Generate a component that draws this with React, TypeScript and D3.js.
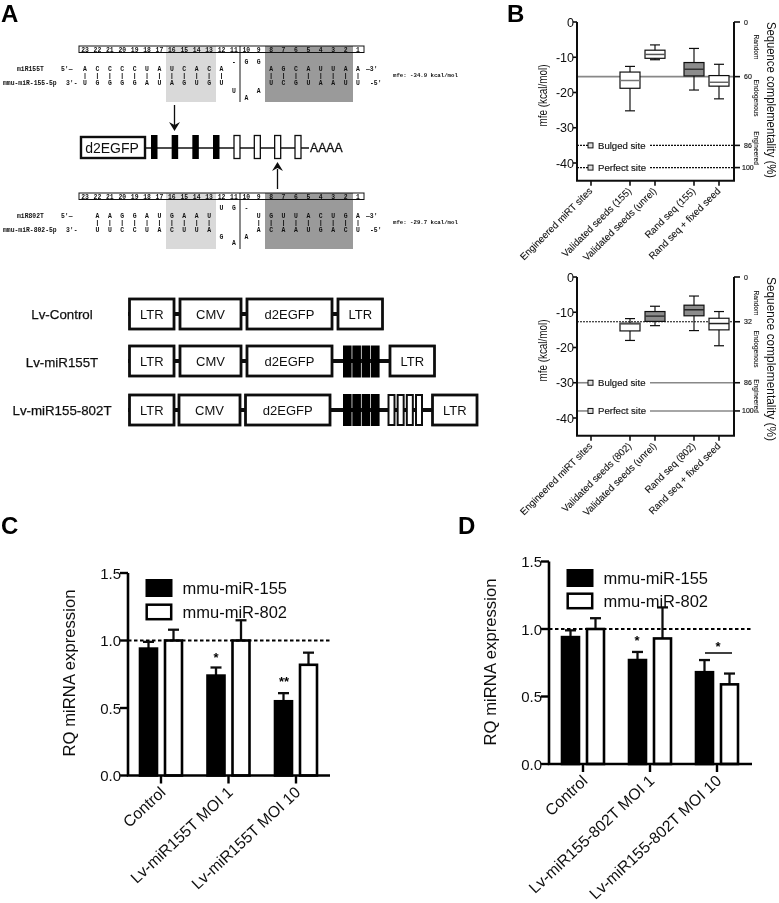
import React from "react";
import * as d3 from "d3";

// ---------- data ----------
const sitePositions = d3.range(23, 0, -1);
const seq155Top = "ACCCCUAUCACA   AGCAUUAA";
const seq155Bottom = "UGGGGAUAGUGU   UCGUAAUU";
const seq155Upper = "            -GG        ";
const seq155Lower1 = "            U A        ";
const seq155Lower2 = "             A         ";
const seq802Top = " AAGGAUGAAU   UGUUACUGA";
const seq802Bottom = " UUCCUACUUA   ACAAUGACU";
const seq802Upper = "           UG-         ";
const seq802Lower1 = "           G A         ";
const seq802Lower2 = "            A          ";

const transcriptBlack = [0, 1, 2, 3];
const transcriptWhite = [0, 1, 2, 3];

const vectorNames = ["Lv-Control", "Lv-miR155T", "Lv-miR155-802T"];

const mfeCategories155 = ["Engineered miRT sites", "Validated seeds (155)", "Validated seeds (unrel)", "Rand seq (155)", "Rand seq + fixed seed"];
const mfeCategories802 = ["Engineered miRT sites", "Validated seeds (802)", "Validated seeds (unrel)", "Rand seq (802)", "Rand seq + fixed seed"];
const mfeTicks = [0, -10, -20, -30, -40];
// whisker high, q1 (upper), median, q3 (lower), whisker low
const boxes155 = [
  { i: 1, hi: -12.6, q1: -14.2, med: -16.6, q3: -18.8, lo: -25.2, fill: "#fff", medColor: "#777" },
  { i: 2, hi: -6.5, q1: -8.0, med: -9.2, q3: -10.3, lo: -10.7, fill: "#fff", medColor: "#555" },
  { i: 3, hi: -7.5, q1: -11.5, med: -13.4, q3: -15.3, lo: -19.3, fill: "#8c8c8c", medColor: "#333" },
  { i: 4, hi: -12.0, q1: -15.2, med: -17.1, q3: -18.2, lo: -21.8, fill: "#fff", medColor: "#666" },
];
const boxes802 = [
  { i: 1, hi: -11.8, q1: -13.1, med: -13.3, q3: -15.3, lo: -18.0, fill: "#fff", medColor: "#555" },
  { i: 2, hi: -8.3, q1: -9.8, med: -11.1, q3: -12.6, lo: -13.8, fill: "#8c8c8c", medColor: "#333" },
  { i: 3, hi: -5.4, q1: -8.0, med: -9.3, q3: -11.0, lo: -15.2, fill: "#8c8c8c", medColor: "#222" },
  { i: 4, hi: -9.8, q1: -11.7, med: -13.2, q3: -15.0, lo: -19.5, fill: "#fff", medColor: "#222" },
];
const complement155 = [
  { pct: "0", mfe: 0 }, { pct: "60", mfe: -15.5 }, { pct: "86", mfe: -35 }, { pct: "100", mfe: -41.3 },
];
const complement802 = [
  { pct: "0", mfe: 0 }, { pct: "32", mfe: -12.7 }, { pct: "86", mfe: -30 }, { pct: "100", mfe: -38 },
];

const rqTicks = [0, 0.5, 1, 1.5];
const groupsC = ["Control", "Lv-miR155T MOI 1", "Lv-miR155T MOI 10"];
const miR155C = [0.94, 0.74, 0.55];
const miR155ErrC = [0.99, 0.80, 0.61];
const miR802C = [1.0, 1.0, 0.82];
const miR802ErrC = [1.08, 1.15, 0.91];
const groupsD = ["Control", "Lv-miR155-802T MOI 1", "Lv-miR155-802T MOI 10"];
const miR155D = [0.94, 0.77, 0.68];
const miR155ErrD = [0.99, 0.83, 0.77];
const miR802D = [1.0, 0.93, 0.59];
const miR802ErrD = [1.08, 1.16, 0.67];

const SANS = "'Liberation Sans', Arial, sans-serif";
const MONO = "'Liberation Mono', monospace";
const INK = "#111";

// ---------- panel A pieces ----------
const xSite = d3.scalePoint<number>().domain(sitePositions).range([85, 358]);

function Alignment({ y, top, bottom, upper, lower1, lower2, label, mirna, mfe, upDy, low1Dy, low2Dy }: any) {
  const ruler = y - 23;
  const ext = y + 33;
  const base = { fontSize: 6.4, fontWeight: 700, fontFamily: MONO, fill: INK };
  const letter = (s: string, dy: number) =>
    sitePositions.map((p, i) =>
      s[i] && s[i] !== " " ? (
        <text key={p} x={xSite(p)} y={y + dy + 2} textAnchor="middle" {...base}>{s[i]}</text>
      ) : null
    );
  return (
    <g>
      <rect x={166} y={ruler} width={50} height={ext - ruler} fill="#d9d9d9" />
      <rect x={265} y={ruler} width={88} height={ext - ruler} fill="#9a9a9a" />
      <rect x={79} y={ruler} width={285} height={6.5} fill="none" stroke={INK} strokeWidth={1} />
      <line x1={240} x2={240} y1={ruler} y2={ext} stroke={INK} strokeWidth={1} />
      {sitePositions.map((p) => (
        <text key={p} x={xSite(p)} y={ruler + 5.5} textAnchor="middle" {...base}>{p}</text>
      ))}
      {letter(top, 0)}
      {letter(bottom, 14)}
      {letter(upper, upDy)}
      {letter(lower1, low1Dy)}
      {letter(lower2, low2Dy)}
      {sitePositions.map((p, i) =>
        top[i] !== " " && bottom[i] !== " " ? (
          <line key={p} x1={xSite(p)} x2={xSite(p)} y1={y + 4} y2={y + 10} stroke={INK} strokeWidth={0.9} />
        ) : null
      )}
      <text x={17} y={y + 2} {...base}>{label}</text>
      <text x={3} y={y + 16} {...base}>{mirna}</text>
      <text x={61} y={y + 2} {...base}>5'—</text>
      <text x={66} y={y + 16} {...base}>3'-</text>
      <text x={366} y={y + 2} {...base}>—3'</text>
      <text x={370} y={y + 16} {...base}>-5'</text>
      <text x={393} y={y + 8} {...base} fontSize={5.7}>{mfe}</text>
    </g>
  );
}

function Transcript() {
  const xBlack = d3.scaleLinear().domain([0, 3]).range([151, 213]);
  const xWhite = d3.scaleLinear().domain([0, 3]).range([234, 295]);
  return (
    <g>
      <line x1={146} x2={309} y1={148} y2={148} stroke={INK} strokeWidth={1.6} />
      <rect x={81} y={137} width={64} height={21} fill="#fff" stroke={INK} strokeWidth={2.4} />
      <text x={112} y={153} textAnchor="middle" fontSize={14} fontFamily={SANS} fill={INK}>d2EGFP</text>
      {transcriptBlack.map((d) => <rect key={d} x={xBlack(d)} y={135} width={6.5} height={24} fill="#000" />)}
      {transcriptWhite.map((d) => <rect key={d} x={xWhite(d)} y={135.5} width={6} height={23} fill="#fff" stroke={INK} strokeWidth={1.3} />)}
      <text x={310} y={152} fontSize={12.2} fontFamily={SANS} fill={INK} stroke={INK} strokeWidth={0.3}>AAAA</text>
      <line x1={174.5} x2={174.5} y1={105} y2={126} stroke={INK} strokeWidth={1.3} />
      <path d="M169,122 L174.5,131 L180,122 L174.5,125 Z" fill={INK} />
      <line x1={277.5} x2={277.5} y1={169} y2={189} stroke={INK} strokeWidth={1.3} />
      <path d="M272,171 L277.5,162 L283,171 L277.5,168 Z" fill={INK} />
    </g>
  );
}

function VBox({ x0, x1, y, h, text }: any) {
  return (
    <g>
      <rect x={x0} y={y} width={x1 - x0} height={h} fill="#fff" stroke={INK} strokeWidth={2.8} />
      <text x={(x0 + x1) / 2} y={y + h / 2 + 5} textAnchor="middle" fontSize={13} fontFamily={SANS} fill={INK}>{text}</text>
    </g>
  );
}

function Vectors() {
  const rows = d3.scalePoint<string>().domain(vectorNames).range([314, 410]);
  const h = 30;
  const black = d3.scaleLinear().domain([0, 3]).range([343, 371]);
  const white = d3.scaleLinear().domain([0, 3]).range([388.5, 416]);
  const r = (n: string) => rows(n) as number;
  return (
    <g>
      {vectorNames.map((n) => (
        <text key={n} x={62} y={r(n) + 5} textAnchor="middle" fontSize={13.3} stroke={INK} strokeWidth={0.25} fontFamily={SANS} fill={INK}>{n}</text>
      ))}
      {/* Lv-Control */}
      <line x1={128} x2={383} y1={r(vectorNames[0])} y2={r(vectorNames[0])} stroke={INK} strokeWidth={4} />
      <VBox x0={129.5} x1={174} y={r(vectorNames[0]) - h / 2} h={h} text="LTR" />
      <VBox x0={180} x1={241} y={r(vectorNames[0]) - h / 2} h={h} text="CMV" />
      <VBox x0={247} x1={332} y={r(vectorNames[0]) - h / 2} h={h} text="d2EGFP" />
      <VBox x0={338} x1={382.5} y={r(vectorNames[0]) - h / 2} h={h} text="LTR" />
      {/* Lv-miR155T */}
      <line x1={128} x2={434} y1={r(vectorNames[1]) - 1} y2={r(vectorNames[1]) - 1} stroke={INK} strokeWidth={4} />
      <VBox x0={129.5} x1={174} y={r(vectorNames[1]) - h / 2 - 1} h={h} text="LTR" />
      <VBox x0={180} x1={241} y={r(vectorNames[1]) - h / 2 - 1} h={h} text="CMV" />
      <VBox x0={247} x1={332} y={r(vectorNames[1]) - h / 2 - 1} h={h} text="d2EGFP" />
      {transcriptBlack.map((d) => <rect key={d} x={black(d)} y={r(vectorNames[1]) - 16.5} width={8.6} height={32} fill="#000" />)}
      <VBox x0={390} x1={434.5} y={r(vectorNames[1]) - h / 2 - 1} h={h} text="LTR" />
      {/* Lv-miR155-802T */}
      <line x1={128} x2={478} y1={r(vectorNames[2])} y2={r(vectorNames[2])} stroke={INK} strokeWidth={4} />
      <VBox x0={129.5} x1={174} y={r(vectorNames[2]) - h / 2} h={h} text="LTR" />
      <VBox x0={179} x1={240} y={r(vectorNames[2]) - h / 2} h={h} text="CMV" />
      <VBox x0={245.5} x1={330} y={r(vectorNames[2]) - h / 2} h={h} text="d2EGFP" />
      {transcriptBlack.map((d) => <rect key={d} x={black(d)} y={r(vectorNames[2]) - 16} width={8.6} height={32} fill="#000" />)}
      {transcriptWhite.map((d) => <rect key={d} x={white(d)} y={r(vectorNames[2]) - 15} width={6} height={30} fill="#fff" stroke={INK} strokeWidth={2} />)}
      <VBox x0={432.5} x1={477} y={r(vectorNames[2]) - h / 2} h={h} text="LTR" />
    </g>
  );
}

// ---------- panel B ----------
function MfePlot({ top, categories, boxes, complement, topLine, lowLine, sideOffsets, seqLen, seqDy, mfeDy }: any) {
  const y = d3.scaleLinear().domain([0, -40]).range([top, top + 141]);
  const bottom = y(-45);
  const x = d3.scaleOrdinal<string, number>().domain(categories).range([591, 630, 655, 694, 719]);
  const L = 577, R = 734;
  return (
    <g fontFamily={SANS} fill={INK}>
      {complement.slice(1).map((c: any, i: number) => {
        const st = i === 0 ? topLine : lowLine;
        const yy = y(c.mfe);
        const gaps = i === 0 ? [[L, R]] : [[L, 588], [650, R]];
        return gaps.map((g, j) => (
          <line key={`${i}-${j}`} x1={g[0]} x2={g[1]} y1={yy} y2={yy} stroke={st.color} strokeWidth={st.w} strokeDasharray={st.dash} />
        ));
      })}
      {[{ t: "Bulged site", m: complement[2].mfe }, { t: "Perfect site", m: complement[3].mfe }].map((d) => (
        <g key={d.t}>
          <rect x={588} y={y(d.m) - 2.5} width={5} height={5} fill="#ddd" stroke={INK} strokeWidth={1} />
          <text x={598} y={y(d.m) + 3.5} fontSize={9.6} stroke={INK} strokeWidth={0.15}>{d.t}</text>
        </g>
      ))}
      {boxes.map((b: any) => {
        const cx = x(categories[b.i]);
        return (
          <g key={b.i}>
            <line x1={cx} x2={cx} y1={y(b.hi)} y2={y(b.lo)} stroke={INK} strokeWidth={1.2} />
            <line x1={cx - 5} x2={cx + 5} y1={y(b.hi)} y2={y(b.hi)} stroke={INK} strokeWidth={1.2} />
            <line x1={cx - 5} x2={cx + 5} y1={y(b.lo)} y2={y(b.lo)} stroke={INK} strokeWidth={1.2} />
            <rect x={cx - 10} y={y(b.q1)} width={20} height={y(b.q3) - y(b.q1)} fill={b.fill} stroke={INK} strokeWidth={1.2} />
            <line x1={cx - 10} x2={cx + 10} y1={y(b.med)} y2={y(b.med)} stroke={b.medColor} strokeWidth={1.5} />
          </g>
        );
      })}
      <path d={`M${L},${top} V${bottom} H${R} V${top}`} fill="none" stroke={INK} strokeWidth={2} />
      {mfeTicks.map((t) => (
        <g key={t}>
          <line x1={L - 4} x2={L} y1={y(t)} y2={y(t)} stroke={INK} strokeWidth={1.6} />
          <text x={L - 3} y={y(t) + 4.5} textAnchor="end" fontSize={12.5}>{t}</text>
        </g>
      ))}
      {complement.map((c: any) => (
        <g key={c.pct}>
          <line x1={R} x2={R + 6} y1={y(c.mfe)} y2={y(c.mfe)} stroke={INK} strokeWidth={1.6} />
          <text x={c.pct === "100" ? R + 8 : R + 10} y={y(c.mfe) + 2.5} fontSize={7} stroke={INK} strokeWidth={0.15}>{c.pct}</text>
        </g>
      ))}
      {categories.map((c: string) => (
        <g key={c}>
          <line x1={x(c)} x2={x(c)} y1={bottom} y2={bottom + 5} stroke={INK} strokeWidth={1.6} />
          <text transform={`translate(${x(c) + 2},${bottom + 11}) rotate(-45)`} textAnchor="end" fontSize={9.7} stroke={INK} strokeWidth={0.1}>{c}</text>
        </g>
      ))}
      <text transform={`translate(547,${top + mfeDy}) rotate(-90)`} textAnchor="middle" fontSize={12.5} textLength={62} lengthAdjust="spacingAndGlyphs">mfe (kcal/mol)</text>
      <text transform={`translate(767,${top + seqDy}) rotate(90)`} textAnchor="middle" fontSize={13.5} textLength={seqLen} lengthAdjust="spacingAndGlyphs">Sequence complementality (%)</text>
      {["Random", "Endogenous", "Engineered"].map((t, i) => (
        <text key={t} transform={`translate(753.5,${top + sideOffsets[i]}) rotate(90)`} textAnchor="middle" fontSize={6.6} stroke={INK} strokeWidth={0.1}>{t}</text>
      ))}
    </g>
  );
}

// ---------- panels C, D ----------
function RqPlot({ axisX, y0, right, ticks, groups, black, blackErr, white, whiteErr, legend }: any) {
  const y = d3.scaleLinear().domain([0, 1.5]).range([y0, y0 - 202.5]);
  const x0 = d3.scalePoint<string>().domain(groups).range([ticks[0], ticks[1]]);
  const sub = (i: number) => x0(groups[i]) as number;
  const W = 17;
  const bar = (cx: number, v: number, e: number, fill: string, k: string) => (
    <g key={k}>
      <line x1={cx} x2={cx} y1={y(v)} y2={y(e)} stroke={INK} strokeWidth={2.3} />
      <line x1={cx - 5.5} x2={cx + 5.5} y1={y(e)} y2={y(e)} stroke={INK} strokeWidth={2.3} />
      <rect x={cx - W / 2} y={y(v)} width={W} height={y0 - y(v)} fill={fill} stroke="#000" strokeWidth={2.6} />
    </g>
  );
  return (
    <g fontFamily={SANS} fill={INK}>
      {groups.map((g: string, i: number) => bar(sub(i) - 12.5, black[i], blackErr[i], "#000", g + "b"))}
      {groups.map((g: string, i: number) => bar(sub(i) + 12.5, white[i], whiteErr[i], "#fff", g + "w"))}
      <line x1={axisX} x2={right} y1={y(1)} y2={y(1)} stroke="#000" strokeWidth={2} strokeDasharray="3.5 2.5" />
      <path d={`M${axisX},${y(1.5)} V${y0} H${right}`} fill="none" stroke="#000" strokeWidth={2.6} />
      {rqTicks.map((t) => (
        <g key={t}>
          <line x1={axisX - 8} x2={axisX} y1={y(t)} y2={y(t)} stroke="#000" strokeWidth={2.4} />
          <text x={axisX - 7} y={y(t) + 5.5} textAnchor="end" fontSize={15}>{t.toFixed(1)}</text>
        </g>
      ))}
      {groups.map((g: string, i: number) => (
        <g key={g}>
          <line x1={sub(i)} x2={sub(i)} y1={y0} y2={y0 + 8} stroke="#000" strokeWidth={2.4} />
          <text transform={`translate(${sub(i) + 5.5},${y0 + 18}) rotate(-43)`} textAnchor="end" fontSize={15.8}>{g}</text>
        </g>
      ))}
      <rect x={legend.x} y={legend.y1} width={27} height={18} fill="#000" />
      <rect x={legend.x + 1.2} y={legend.y2 + 1.2} width={24.5} height={14.5} fill="#fff" stroke="#000" strokeWidth={2.5} />
      <text x={legend.x + 37} y={legend.y1 + 15} fontSize={16.5}>mmu-miR-155</text>
      <text x={legend.x + 37} y={legend.y2 + 14} fontSize={16.5}>mmu-miR-802</text>
      <text transform={`translate(${legend.lx},${legend.ly}) rotate(-90)`} textAnchor="middle" fontSize={16.7}>RQ miRNA expression</text>
    </g>
  );
}

export default function App() {
  const panel = (t: string, x: number, y: number) => (
    <text x={x} y={y} fontSize={24} fontWeight={700} fontFamily={SANS} fill="#000">{t}</text>
  );
  const star = (t: string, x: number, y: number) => (
    <text x={x} y={y} textAnchor="middle" fontSize={13} fontWeight={700} fontFamily={SANS} fill="#000">{t}</text>
  );
  return (
    <svg width={779} height={903} viewBox="0 0 779 903" style={{ position: "absolute", left: 0, top: 0, background: "#fff" }}>
      <defs>
        <filter id="soft" filterUnits="userSpaceOnUse" x={0} y={0} width={779} height={903}>
          <feGaussianBlur stdDeviation={0.35} />
        </filter>
      </defs>
      <g filter="url(#soft)">
        {panel("A", 1, 22)}
        {panel("B", 507, 22)}
        {panel("C", 1, 534)}
        {panel("D", 458, 534)}

        <Alignment y={69} top={seq155Top} bottom={seq155Bottom} upper={seq155Upper} lower1={seq155Lower1} lower2={seq155Lower2}
          label="miR155T" mirna="mmu-miR-155-5p" mfe="mfe: -34.9 kcal/mol" upDy={-7} low1Dy={22} low2Dy={29} />
        <Alignment y={216} top={seq802Top} bottom={seq802Bottom} upper={seq802Upper} lower1={seq802Lower1} lower2={seq802Lower2}
          label="miR802T" mirna="mmu-miR-802-5p" mfe="mfe: -29.7 kcal/mol" upDy={-8} low1Dy={21} low2Dy={27} />
        <Transcript />
        <Vectors />

        <MfePlot top={22} categories={mfeCategories155} boxes={boxes155} complement={complement155}
          topLine={{ color: "#888", w: 1.8, dash: "none" }} lowLine={{ color: "#111", w: 1.1, dash: "2 1" }}
          sideOffsets={[25, 76, 126]} seqLen={156} seqDy={78} mfeDy={73.5} />
        <MfePlot top={277} categories={mfeCategories802} boxes={boxes802} complement={complement802}
          topLine={{ color: "#111", w: 1.2, dash: "2 1" }} lowLine={{ color: "#888", w: 1.6, dash: "none" }}
          sideOffsets={[26, 72, 119]} seqLen={164} seqDy={82} mfeDy={73.5} />

        <RqPlot axisX={128} y0={775.5} right={330} ticks={[161, 296]} groups={groupsC}
          black={miR155C} blackErr={miR155ErrC} white={miR802C} whiteErr={miR802ErrC}
          legend={{ x: 145.5, y1: 579, y2: 603.5, lx: 75, ly: 673 }} />
        {star("*", 216, 662)}
        {star("**", 284, 686)}

        <RqPlot axisX={549} y0={764} right={752} ticks={[583, 717]} groups={groupsD}
          black={miR155D} blackErr={miR155ErrD} white={miR802D} whiteErr={miR802ErrD}
          legend={{ x: 566.5, y1: 569, y2: 592.5, lx: 496, ly: 662 }} />
        {star("*", 637, 645)}
        {star("*", 718, 651)}
        <line x1={705} x2={732} y1={653} y2={653} stroke="#000" strokeWidth={1.5} />
      </g>
    </svg>
  );
}
